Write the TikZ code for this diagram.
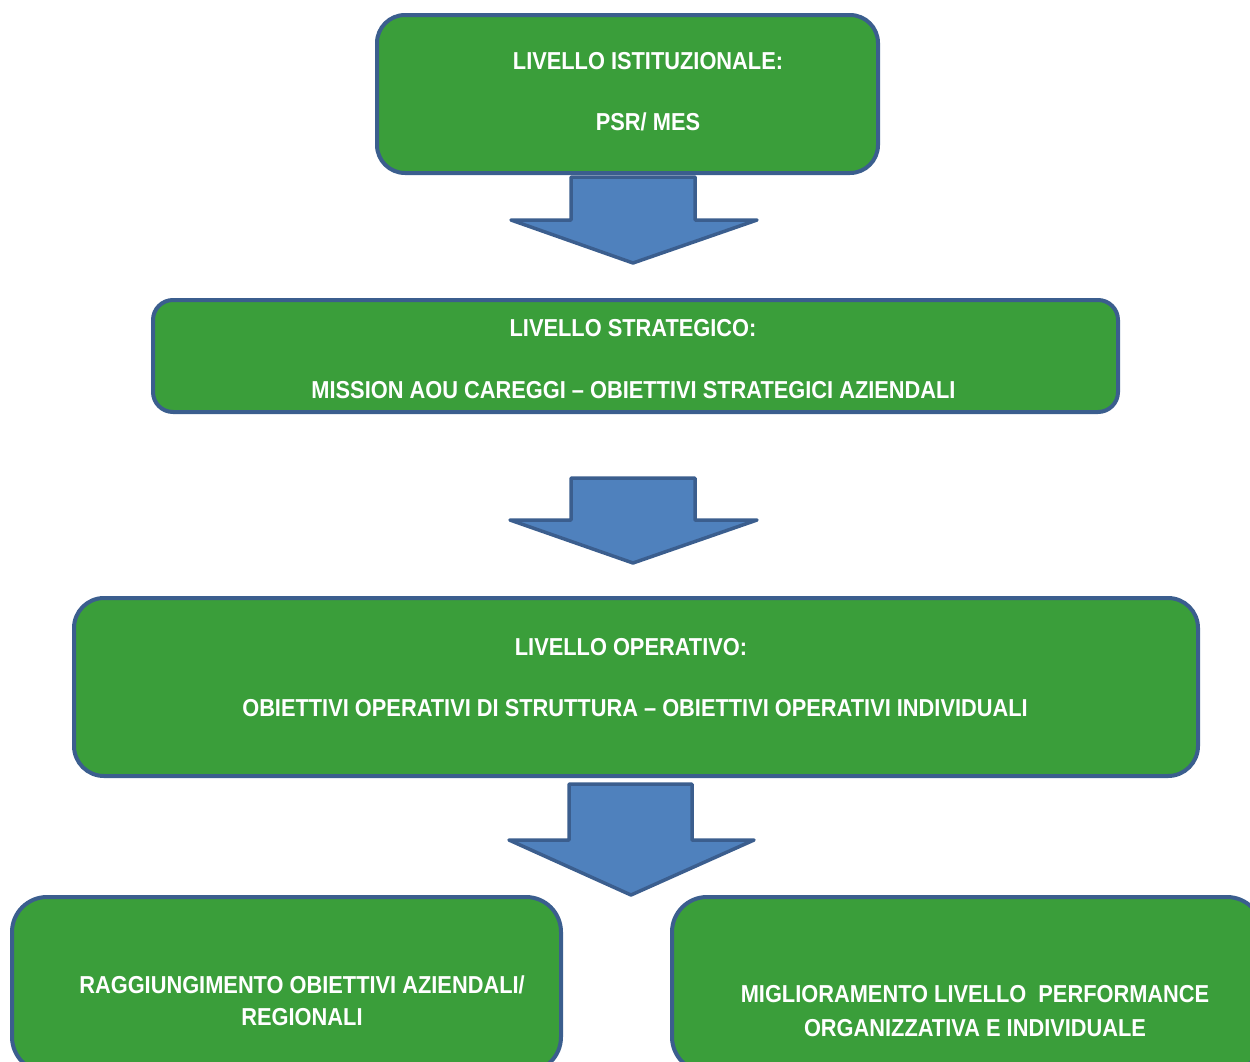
\documentclass[tikz,border=0pt]{standalone}
\usepackage{fontspec}
\setmainfont{Liberation Sans}[FakeStretch=0.89]
\definecolor{boxgreen}{RGB}{58,158,58}
\definecolor{boxline}{RGB}{59,94,142}
\definecolor{arrowfill}{RGB}{79,129,189}
\begin{document}
\begin{tikzpicture}[x=1pt,y=-1pt,
  box/.style={draw=boxline, fill=boxgreen, line width=4pt, rounded corners=#1, inner sep=0pt},
  lbl/.style={text=white, font=\fontsize{24.5}{28}\selectfont\bfseries, anchor=base, inner sep=0pt},
  barrow/.style={draw=boxline, fill=arrowfill, line width=3.5pt, line join=round}]
\useasboundingbox (0,0) rectangle (1250,1061);
\clip (0,0) rectangle (1250,1061);
% boxes
\node[box=28pt, minimum width=501pt, minimum height=158pt] (b1) at (627.5,94) {};
\node[box=20pt, minimum width=965pt, minimum height=112pt] (b2) at (635.5,356) {};
\node[box=30pt, minimum width=1124pt, minimum height=178pt] (b3) at (636,687) {};
\node[box=35pt, minimum width=549pt, minimum height=175pt] (b4) at (286.5,984.5) {};
\node[box=35pt, minimum width=590pt, minimum height=175pt] (b5) at (967,984.5) {};
% block arrows
\draw[barrow] (571,177) -- (695,177) -- (695,220) -- (757,220) -- (633,263) -- (511,220) -- (571,220) -- cycle;
\draw[barrow] (571,478) -- (695,478) -- (695,520) -- (757,520) -- (633,563) -- (510,520) -- (571,520) -- cycle;
\draw[barrow] (569,784) -- (692,784) -- (692,840) -- (754,840) -- (631,895) -- (509,840) -- (569,840) -- cycle;
% texts
\node[lbl] (t1a) at (648,69) {LIVELLO ISTITUZIONALE:};
\node[lbl] (t1b) at (648,130) {PSR/ MES};
\node[lbl] (t2a) at (633,336) {LIVELLO STRATEGICO:};
\node[lbl] (t2b) at (633.5,398) {MISSION AOU CAREGGI -- OBIETTIVI STRATEGICI AZIENDALI};
\node[lbl] (t3a) at (631,655) {LIVELLO OPERATIVO:};
\node[lbl] (t3b) at (635,716) {OBIETTIVI OPERATIVI DI STRUTTURA -- OBIETTIVI OPERATIVI INDIVIDUALI};
\node[lbl] (t4a) at (302,993) {RAGGIUNGIMENTO OBIETTIVI AZIENDALI/};
\node[lbl] (t4b) at (302,1025) {REGIONALI};
\node[lbl] (t5a) at (975,1002) {MIGLIORAMENTO LIVELLO \ PERFORMANCE};
\node[lbl] (t5b) at (975,1036) {ORGANIZZATIVA E INDIVIDUALE};
\end{tikzpicture}
\end{document}
